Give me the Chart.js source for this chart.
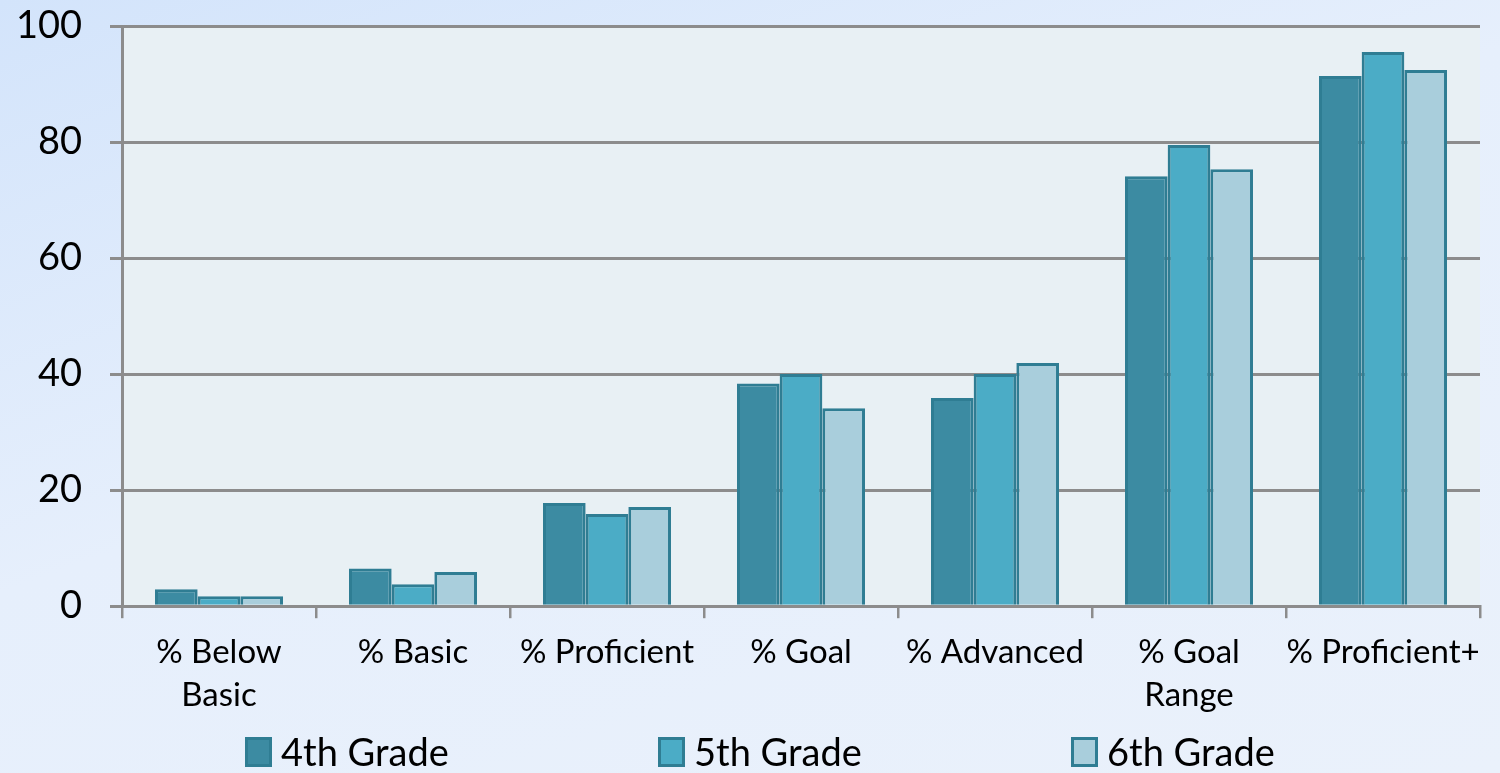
<!DOCTYPE html>
<html>
<head>
<meta charset="utf-8">
<script src="https://cdn.jsdelivr.net/npm/chart.js@4.4.1/dist/chart.umd.min.js"></script>
<style>
    html, body {margin: 0; padding: 0;}
    body {
        width: 1500px; height: 773px; overflow: hidden;
        background: linear-gradient(160deg, #d3e4fb 0%, #e6effc 45%, #eaf1fb 100%);
    }
    #wrap {position: relative; width: 1500px; height: 773px;}
</style>
</head>
<body>
<div id="wrap"><canvas id="myChart"></canvas></div>
<script>
    const categories = [['% Below', 'Basic'], '% Basic', '% Proficient', '% Goal', '% Advanced', ['% Goal', 'Range'], '% Proficient+'];
    const seriesNames = ['4th Grade', '5th Grade', '6th Grade'];
    const grade4 = [2.9, 6.5, 17.8, 38.4, 35.9, 74.1, 91.4];
    const grade5 = [1.7, 3.8, 15.9, 40.0, 40.0, 79.5, 95.5];
    const grade6 = [1.7, 5.9, 17.1, 34.1, 41.9, 75.3, 92.4];
    const yTicks = [0, 20, 40, 60, 80, 100];

    const fills = ['#3c8ba2', '#4bacc6', '#a9cedc'];
    const border = '#2f7d93';
    const fontFamily = 'Lato, "Open Sans", sans-serif';

    // plot area background
    const plotBg = {
        id: 'plotBg',
        beforeDraw(chart) {
            const {ctx, chartArea} = chart;
            ctx.save();
            ctx.fillStyle = '#e8f0f4';
            ctx.fillRect(chartArea.left, chartArea.top, chartArea.right - chartArea.left, chartArea.bottom - chartArea.top);
            ctx.restore();
        }
    };

    // legend drawn by hand so the items can sit far apart like the original
    const wideLegend = {
        id: 'wideLegend',
        afterDraw(chart) {
            const {ctx} = chart;
            ctx.save();
            ctx.font = '38px ' + fontFamily;
            ctx.textBaseline = 'middle';
            chart.data.datasets.forEach((ds, i) => {
                const x = 245 + i * 413;
                const y = 752;
                ctx.fillStyle = ds.backgroundColor;
                ctx.strokeStyle = ds.borderColor;
                ctx.lineWidth = 3;
                ctx.fillRect(x, y - 15, 27, 30);
                ctx.strokeRect(x + 1.5, y - 13.5, 24, 27);
                ctx.fillStyle = '#000';
                ctx.fillText(ds.label, x + 36, y + 2);
            });
            ctx.restore();
        }
    };

    const ctx = document.getElementById('myChart');
    new Chart(ctx, {
        type: 'bar',
        data: {
            labels: categories,
            datasets: [grade4, grade5, grade6].map((d, i) => ({
                label: seriesNames[i],
                data: d,
                backgroundColor: fills[i],
                borderColor: border,
                borderWidth: 3,
                categoryPercentage: 0.66,
                barPercentage: 1.0
            }))
        },
        options: {
            responsive: true,
            maintainAspectRatio: false,
            animation: false,
            layout: {padding: {top: 26, right: 20, left: 0, bottom: 43}},
            plugins: {
                tooltip: {enabled: false},
                legend: {display: false}
            },
            scales: {
                x: {
                    grid: {
                        display: true,
                        drawOnChartArea: false,
                        drawTicks: true,
                        tickLength: 12,
                        color: '#8c8c8c',
                        lineWidth: 2.5
                    },
                    border: {color: '#8c8c8c', width: 3},
                    ticks: {
                        color: '#000',
                        font: {family: fontFamily, size: 33, lineHeight: 1.3},
                        maxRotation: 0,
                        autoSkip: false,
                        padding: 13
                    }
                },
                y: {
                    min: 0,
                    max: 100,
                    afterFit(scale) {
                        scale.width = 122;
                        scale.paddingTop = 0;
                        scale.paddingBottom = 0;
                    },
                    afterBuildTicks(scale) { scale.ticks = yTicks.map(v => ({value: v})); },
                    grid: {
                        color: '#8c8c8c',
                        lineWidth: 3,
                        drawTicks: true,
                        tickLength: 12
                    },
                    border: {color: '#8c8c8c', width: 3},
                    ticks: {
                        color: '#000',
                        font: {family: fontFamily, size: 38},
                        padding: 28
                    }
                }
            }
        },
        plugins: [plotBg, wideLegend]
    });
</script>
</body>
</html>
